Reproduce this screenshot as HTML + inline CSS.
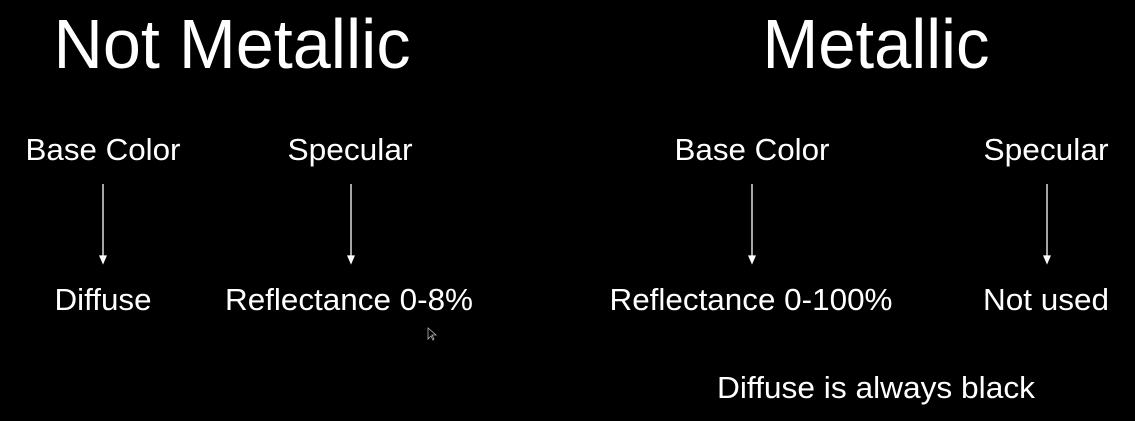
<!DOCTYPE html>
<html><head><meta charset="utf-8"><style>
html,body{margin:0;padding:0;background:#000;width:1135px;height:421px;overflow:hidden}
svg{display:block}
text{font-family:"Liberation Sans",sans-serif;fill:#fff;text-anchor:middle}
</style></head><body>
<svg width="1135" height="421" viewBox="0 0 1135 421">
<text x="232" y="68" font-size="70" textLength="357" lengthAdjust="spacingAndGlyphs">Not Metallic</text>
<text x="876" y="68" font-size="70" textLength="227" lengthAdjust="spacingAndGlyphs">Metallic</text>
<text x="103" y="160" font-size="31" textLength="155" lengthAdjust="spacingAndGlyphs">Base Color</text>
<text x="350" y="160" font-size="31" textLength="125" lengthAdjust="spacingAndGlyphs">Specular</text>
<text x="752" y="160" font-size="31" textLength="155" lengthAdjust="spacingAndGlyphs">Base Color</text>
<text x="1046" y="160" font-size="31" textLength="125" lengthAdjust="spacingAndGlyphs">Specular</text>
<g stroke="#fff" stroke-width="1.3" fill="#fff">
<line x1="103" y1="184" x2="103" y2="258"/><polygon points="100,256 106,256 103,263"/>
<line x1="351" y1="184" x2="351" y2="258"/><polygon points="348,256 354,256 351,263"/>
<line x1="752" y1="184" x2="752" y2="258"/><polygon points="749,256 755,256 752,263"/>
<line x1="1047" y1="184" x2="1047" y2="258"/><polygon points="1044,256 1050,256 1047,263"/>
</g>
<text x="103" y="310" font-size="31" textLength="97" lengthAdjust="spacingAndGlyphs">Diffuse</text>
<text x="349" y="310" font-size="31" textLength="248" lengthAdjust="spacingAndGlyphs">Reflectance 0-8%</text>
<text x="751" y="310" font-size="31" textLength="283" lengthAdjust="spacingAndGlyphs">Reflectance 0-100%</text>
<text x="1046" y="310" font-size="31" textLength="126" lengthAdjust="spacingAndGlyphs">Not used</text>
<text x="876" y="398" font-size="31" textLength="318" lengthAdjust="spacingAndGlyphs">Diffuse is always black</text>
<polygon points="428,328 428,339 431,336 433,340 434,339 432,335 436,335" fill="#000" stroke="#bbb" stroke-width="0.8"/>
</svg>
</body></html>
